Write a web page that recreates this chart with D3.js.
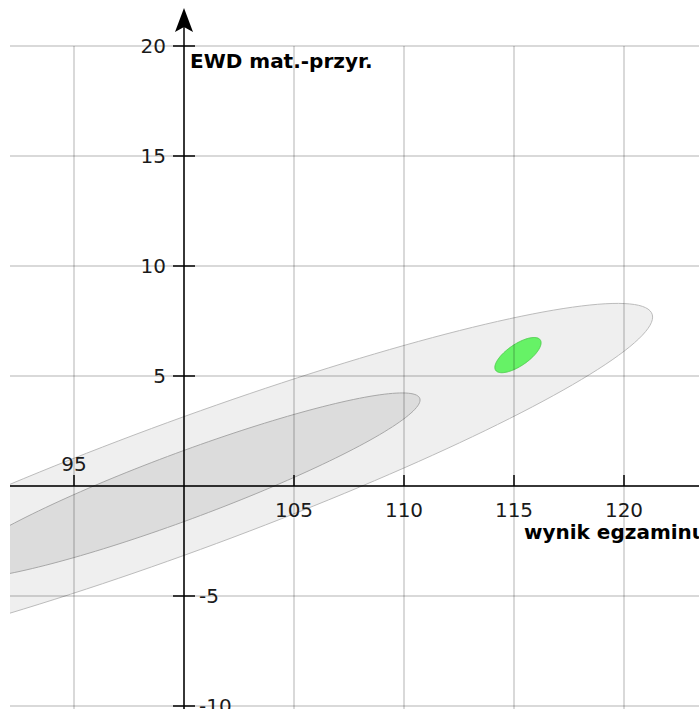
<!DOCTYPE html>
<html>
<head>
<meta charset="utf-8">
<script src="https://cdn.jsdelivr.net/npm/d3@7/dist/d3.min.js"></script>
<style>
  html, body { margin: 0; padding: 0; background: #fff; }
  svg { display: block; }
  text { font-family: "DejaVu Sans", sans-serif; }
</style>
</head>
<body>
<svg id="chart" width="699" height="709"></svg>
<script>
// ---- data ----
const xTicks = [95, 105, 110, 115, 120];
const yTicks = [20, 15, 10, 5, -5, -10];
const xGrid = [95, 100, 105, 110, 115, 120];
const yGrid = [20, 15, 10, 5, 0, -5, -10];
const ellipseNames = ["outer", "inner", "school"];
const centerX = [100, 100, 115.18];
const centerY = [0, 0, 5.95];
const spreadX = [21.3, 10.73, 1.05];
const spreadY = [8.3, 4.23, 0.8];
const corr = [0.925, 0.924, 0.7];
const xTitle = "wynik egzaminu";
const yTitle = "EWD mat.-przyr.";

// ---- styles ----
const fills = { outer: "#efefef", inner: "#dcdcdc", school: "#66f266" };
const strokes = { outer: "#bcbcbc", inner: "#a8a8a8", school: "#4fcf4f" };

const W = 699, H = 709;
const x = d3.scaleLinear().domain([95, 120]).range([74, 624]);
const y = d3.scaleLinear().domain([20, -10]).range([46, 706]);
const plotLeft = 10;

const svg = d3.select("#chart");
svg.append("defs").append("clipPath").attr("id", "clip")
  .append("rect").attr("x", plotLeft).attr("y", 0).attr("width", W - plotLeft).attr("height", H);

// ellipses
const angles = d3.range(0, 361, 2).map(a => a * Math.PI / 180);
const line = d3.line().curve(d3.curveCardinalClosed);
const eg = svg.append("g").attr("clip-path", "url(#clip)");
ellipseNames.forEach((nm, i) => {
  const pts = angles.slice(0, -1).map(t => {
    const vx = centerX[i] + spreadX[i] * Math.cos(t);
    const vy = centerY[i] + spreadY[i] * (corr[i] * Math.cos(t) + Math.sqrt(1 - corr[i] * corr[i]) * Math.sin(t));
    return [x(vx), y(vy)];
  });
  eg.append("path").attr("d", line(pts))
    .attr("fill", fills[nm]).attr("stroke", strokes[nm]).attr("stroke-width", 1);
});

// grid (on top, semi-transparent)
const gg = svg.append("g").attr("stroke", "rgba(0,0,0,0.2)").attr("stroke-width", 1.5);
xGrid.forEach(v => gg.append("line").attr("x1", x(v)).attr("x2", x(v)).attr("y1", y(20)).attr("y2", H));
yGrid.forEach(v => gg.append("line").attr("x1", plotLeft).attr("x2", W).attr("y1", y(v)).attr("y2", y(v)));

// axes
const ag = svg.append("g").attr("stroke", "#000").attr("stroke-width", 1.5);
ag.append("line").attr("x1", plotLeft).attr("x2", W).attr("y1", y(0)).attr("y2", y(0));
ag.append("line").attr("x1", x(100)).attr("x2", x(100)).attr("y1", H).attr("y2", 20);
const ax = x(100);
svg.append("path")
  .attr("d", `M${ax},8 L${ax - 9},32 L${ax},27 L${ax + 9},32 Z`)
  .attr("fill", "#000");

// x ticks
xTicks.forEach(v => {
  ag.append("line").attr("x1", x(v)).attr("x2", x(v)).attr("y1", y(0) - 11).attr("y2", y(0));
  const above = v < 100;
  svg.append("text").attr("x", x(v)).attr("y", above ? y(0) - 15 : y(0) + 31)
    .attr("text-anchor", "middle").attr("font-size", 20).attr("fill", "#1a1a1a").text(v);
});
// y ticks
yTicks.forEach(v => {
  ag.append("line").attr("x1", ax - 11).attr("x2", ax + 11).attr("y1", y(v)).attr("y2", y(v));
  const neg = v < 0;
  svg.append("text").attr("x", neg ? ax + 15 : ax - 18).attr("y", y(v))
    .attr("dy", "0.36em")
    .attr("text-anchor", neg ? "start" : "end").attr("font-size", 20).attr("fill", "#1a1a1a").text(v);
});

// titles
svg.append("text").attr("x", ax + 6).attr("y", 68).attr("font-size", 20).attr("font-weight", "bold")
  .attr("fill", "#000").text(yTitle);
svg.append("text").attr("x", 524).attr("y", 539).attr("font-size", 20).attr("font-weight", "bold")
  .attr("fill", "#000").text(xTitle);
</script>
</body>
</html>
